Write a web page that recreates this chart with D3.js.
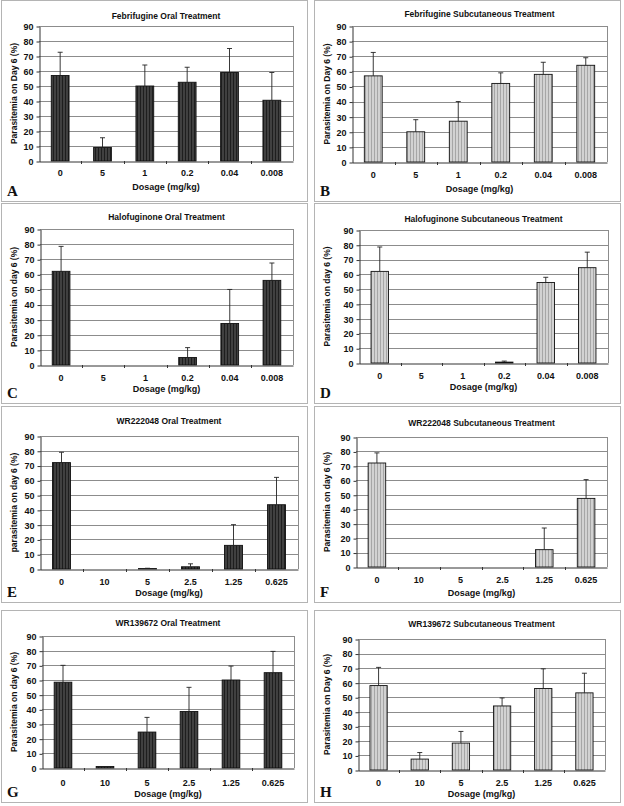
<!DOCTYPE html>
<html lang="en">
<head>
    <meta charset="UTF-8">
    <title>Parasitemia on Day 6</title>
    <script src="https://d3js.org/d3.v7.min.js"></script>
    <style>
        body { margin: 0; background: #fff; }
        text { font-family: "Liberation Sans", Arial, sans-serif; font-weight: bold; fill: #111; }
        .letter { font-family: "Liberation Serif", "Times New Roman", serif; }
    </style>
</head>
<body>
<svg width="624" height="806" viewBox="0 0 624 806"></svg>
<script>
    // dosage categories (mg/kg)
    let dosesFeb = ["0", "5", "1", "0.2", "0.04", "0.008"]
    let dosesWR = ["0", "10", "5", "2.5", "1.25", "0.625"]
    let yTicks = [0, 10, 20, 30, 40, 50, 60, 70, 80, 90]

    // mean parasitemia (%) and upper error (SD)
    let febOralMean = [57, 9, 50, 52.5, 59, 40.5]
    let febOralErr = [15.5, 6.5, 14, 10, 16, 18.5]
    let febSubMean = [57, 20, 27, 52, 58, 64]
    let febSubErr = [15.5, 8, 13, 7, 8, 5]
    let haloOralMean = [62, 0, 0, 5, 27.5, 56]
    let haloOralErr = [16.5, 0, 0, 6.5, 22.5, 11.5]
    let haloSubMean = [62, 0, 0, 0.6, 54.5, 64.5]
    let haloSubErr = [16.5, 0, 0, 0.7, 3.5, 10.5]
    let wr222OralMean = [72, 0, 0.3, 1.5, 16, 43.5]
    let wr222OralErr = [7, 0, 0.2, 2, 14, 18.5]
    let wr222SubMean = [72, 0, 0, 0, 12, 47.5]
    let wr222SubErr = [7, 0, 0, 0, 15, 13]
    let wr139OralMean = [58.5, 1, 24.5, 38.5, 60, 65]
    let wr139OralErr = [11.5, 0, 10, 16.5, 9.5, 14.5]
    let wr139SubMean = [58, 7.5, 18.5, 44, 56, 53]
    let wr139SubErr = [12.5, 4.5, 8, 5.5, 13.5, 13.5]

    let panels = [
        {letter: "A", title: "Febrifugine Oral Treatment", ylab: "Parasitemia on Day 6 (%)", doses: dosesFeb, mean: febOralMean, err: febOralErr, oral: true,
            frame: [1, 0, 307, 201], plot: [39, 26, 293, 161], ty: 16, xty: 173, aty: 187},
        {letter: "B", title: "Febrifugine Subcutaneous Treatment", ylab: "Parasitemia on Day 6 (%)", doses: dosesFeb, mean: febSubMean, err: febSubErr, oral: false,
            frame: [314, 0, 620, 201], plot: [352, 26, 607, 162], ty: 14, xty: 175, aty: 189},
        {letter: "C", title: "Halofuginone Oral Treatment", ylab: "Parasitemia on day 6 (%)", doses: dosesFeb, mean: haloOralMean, err: haloOralErr, oral: true,
            frame: [1, 203, 307, 403], plot: [40, 229, 293, 365], ty: 217, xty: 378, aty: 389},
        {letter: "D", title: "Halofuginone Subcutaneous Treatment", ylab: "Parasitemia on day 6 (%)", doses: dosesFeb, mean: haloSubMean, err: haloSubErr, oral: false,
            frame: [314, 203, 620, 403], plot: [359, 230, 608, 363], ty: 219, xty: 376, aty: 387},
        {letter: "E", title: "WR222048 Oral Treatment", ylab: "parasitemia on day 6 (%)", doses: dosesWR, mean: wr222OralMean, err: wr222OralErr, oral: true,
            frame: [1, 406, 307, 602], plot: [40, 436, 298, 569], ty: 421, xty: 582, aty: 593},
        {letter: "F", title: "WR222048 Subcutaneous Treatment", ylab: "Parasitemia on day 6 (%)", doses: dosesWR, mean: wr222SubMean, err: wr222SubErr, oral: false,
            frame: [314, 406, 620, 602], plot: [356, 437, 607, 567], ty: 423, xty: 580, aty: 593},
        {letter: "G", title: "WR139672 Oral Treatment", ylab: "Parasitemia on day 6 (%)", doses: dosesWR, mean: wr139OralMean, err: wr139OralErr, oral: true,
            frame: [1, 610, 307, 802], plot: [42, 636, 294, 768], ty: 623, xty: 783, aty: 794},
        {letter: "H", title: "WR139672 Subcutaneous Treatment", ylab: "Parasitemia on Day 6 (%)", doses: dosesWR, mean: wr139SubMean, err: wr139SubErr, oral: false,
            frame: [314, 610, 620, 802], plot: [358, 639, 605, 770], ty: 624, xty: 783, aty: 794}
    ]

    let svg = d3.select('svg')

    // striped fills
    let defs = svg.append("defs")
    function stripes(id, base, line) {
        let p = defs.append("pattern").attr("id", id)
            .attr("patternUnits", "userSpaceOnUse")
            .attr("width", 3).attr("height", 3)
        p.append("rect").attr("width", 3).attr("height", 3).attr("fill", base)
        p.append("rect").attr("x", 2).attr("width", 1).attr("height", 3).attr("fill", line)
    }
    stripes("oral", "#404040", "#1e1e1e")
    stripes("sub", "#d2d2d2", "#a6a6a6")

    panels.forEach(function(p) {
        let g = svg.append("g")
        let [fx0, fy0, fx1, fy1] = p.frame
        let [px0, py0, px1, py1] = p.plot

        g.append("rect")
            .attr("x", fx0 + 0.5).attr("y", fy0 + 0.5)
            .attr("width", fx1 - fx0).attr("height", fy1 - fy0)
            .attr("fill", "none").attr("stroke", "#b4b4b4")

        let x = d3.scaleBand().domain(p.doses).range([px0, px1])
        let y = d3.scaleLinear().domain([0, 90]).range([py1, py0])
        let bw = x.bandwidth() * 0.42

        // gridlines
        g.append("g").selectAll("line")
            .data(yTicks.slice(1))
            .enter().append("line")
            .attr("x1", px0).attr("x2", px1)
            .attr("y1", d => Math.round(y(d)) + 0.5).attr("y2", d => Math.round(y(d)) + 0.5)
            .attr("stroke", "#8c8c8c")

        // plot border right
        g.append("line")
            .attr("x1", px1 + 0.5).attr("x2", px1 + 0.5)
            .attr("y1", py0).attr("y2", py1)
            .attr("stroke", "#8c8c8c")

        // y axis
        let yAxis = g.append("g")
            .attr("transform", `translate(${px0 + 0.5},0.5)`)
            .call(d3.axisLeft(y).tickValues(yTicks).tickSize(3).tickSizeOuter(0).tickPadding(3))
        yAxis.select(".domain").attr("stroke", "#333")
        yAxis.selectAll(".tick line").attr("stroke", "#333")
        yAxis.selectAll("text").style("font-size", "9px")

        // bars
        let rows = p.doses.map((d, i) => ({dose: d, mean: p.mean[i], err: p.err[i]}))
        g.append("g").selectAll("rect")
            .data(rows.filter(d => d.mean > 0))
            .enter().append("rect")
            .attr("x", d => x(d.dose) + (x.bandwidth() - bw) / 2)
            .attr("y", d => y(d.mean))
            .attr("width", bw)
            .attr("height", d => y(0) - y(d.mean))
            .attr("fill", p.oral ? "url(#oral)" : "url(#sub)")
            .attr("stroke", "#111").attr("stroke-width", 0.9)

        // error bars (upper only)
        let eb = g.append("g").selectAll("g")
            .data(rows.filter(d => d.err > 0))
            .enter().append("g")
        eb.append("line")
            .attr("x1", d => x(d.dose) + x.bandwidth() / 2)
            .attr("x2", d => x(d.dose) + x.bandwidth() / 2)
            .attr("y1", d => y(d.mean)).attr("y2", d => y(d.mean + d.err))
            .attr("stroke", "#222").attr("stroke-width", 0.9)
        eb.append("line")
            .attr("x1", d => x(d.dose) + x.bandwidth() / 2 - 2.5)
            .attr("x2", d => x(d.dose) + x.bandwidth() / 2 + 2.5)
            .attr("y1", d => y(d.mean + d.err)).attr("y2", d => y(d.mean + d.err))
            .attr("stroke", "#222").attr("stroke-width", 0.9)

        // x axis
        let xAxis = g.append("g")
            .attr("transform", `translate(0,${py1 + 0.5})`)
            .call(d3.axisBottom(x).tickSize(0).tickPadding(0))
        xAxis.select(".domain").attr("stroke", "#333")
        xAxis.selectAll("text").remove()
        g.append("g").selectAll("line")
            .data(p.doses.slice(1))
            .enter().append("line")
            .attr("x1", d => Math.round(x(d)) + 0.5).attr("x2", d => Math.round(x(d)) + 0.5)
            .attr("y1", py1).attr("y2", py1 + 3)
            .attr("stroke", "#333")
        g.append("g").selectAll("text")
            .data(p.doses)
            .enter().append("text")
            .attr("x", d => x(d) + x.bandwidth() / 2)
            .attr("y", p.xty)
            .attr("dy", "0.35em")
            .attr("text-anchor", "middle")
            .style("font-size", "9px")
            .text(d => d)

        // titles
        g.append("text")
            .attr("x", (px0 + px1) / 2).attr("y", p.ty).attr("dy", "0.35em")
            .attr("text-anchor", "middle").style("font-size", "8.5px")
            .text(p.title)
        g.append("text")
            .attr("x", (px0 + px1) / 2).attr("y", p.aty).attr("dy", "0.35em")
            .attr("text-anchor", "middle").style("font-size", "9px")
            .text("Dosage (mg/kg)")
        g.append("text")
            .attr("transform", `translate(${fx0 + 13},${(py0 + py1) / 2}) rotate(-90)`)
            .attr("dy", "0.35em")
            .attr("text-anchor", "middle").style("font-size", "8.5px")
            .text(p.ylab)
        g.append("text")
            .attr("class", "letter")
            .attr("x", fx0 + 6).attr("y", fy1 - 5)
            .style("font-size", "15px")
            .text(p.letter)
    })
</script>
</body>
</html>
